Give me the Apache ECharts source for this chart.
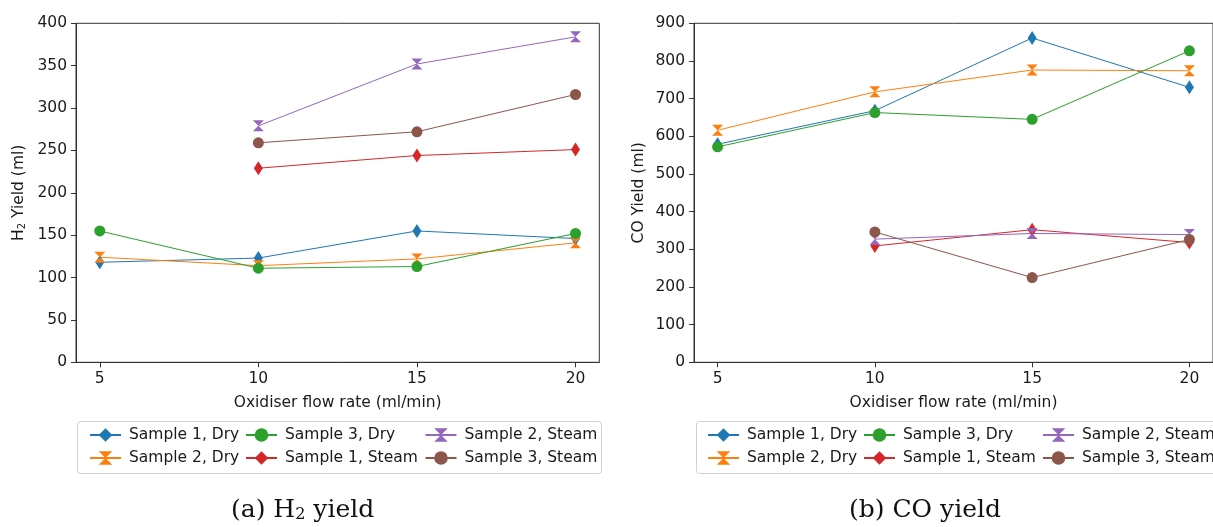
<!DOCTYPE html>
<html>
<head>
<meta charset="utf-8">
<script src="https://cdn.jsdelivr.net/npm/echarts@6/dist/echarts.min.js"></script>
<style>html,body{margin:0;padding:0;background:#fff;}#c{width:1213px;height:527px;}</style>
</head>
<body>
<div id="c"></div>
<script>
// ---- data ----
var flowRates = [5, 10, 15, 20];
var seriesNames = ['Sample 1, Dry', 'Sample 2, Dry', 'Sample 3, Dry', 'Sample 1, Steam', 'Sample 2, Steam', 'Sample 3, Steam'];
var h2S1Dry = [118, 123, 155, 146];
var h2S2Dry = [124, 114, 122, 141];
var h2S3Dry = [155, 111, 113, 152];
var h2S1Steam = [null, 229, 244, 251];
var h2S2Steam = [null, 279, 352, 384];
var h2S3Steam = [null, 259, 272, 316];
var coS1Dry = [579, 668, 861, 730];
var coS2Dry = [616, 718, 776, 774];
var coS3Dry = [572, 663, 645, 827];
var coS1Steam = [null, 309, 352, 318];
var coS2Steam = [null, 327, 342, 339];
var coS3Steam = [null, 346, 225, 326];
var xTicks = [5, 10, 15, 20];

// ---- styles ----
var colors = ['#1f77b4', '#ff7f0e', '#2ca02c', '#d62728', '#9467bd', '#8c564b'];
var DIAMOND = 'path://M5,0 L8.5,7 L5,14 L1.5,7 Z';
var HOURGLASS = 'path://M0,0 L10,0 L0,10 L10,10 Z';
var symbols = [DIAMOND, HOURGLASS, 'circle', DIAMOND, HOURGLASS, 'circle'];
var symSizes = [[9, 14], [11, 11], 11, [9, 14], [11, 11], 11];
var FONT = 'DejaVu Sans';
var TXT = '#1a1a1a';
var FS = 15.5;

function pairs(vals) {
  var out = [];
  for (var i = 0; i < flowRates.length; i++) if (vals[i] != null) out.push([flowRates[i], vals[i]]);
  return out;
}

var h2Data = [h2S1Dry, h2S2Dry, h2S3Dry, h2S1Steam, h2S2Steam, h2S3Steam];
var coData = [coS1Dry, coS2Dry, coS3Dry, coS1Steam, coS2Steam, coS3Steam];

function xAxisDef(gi) {
  return {
    type: 'value', gridIndex: gi, min: 4.25, max: 20.75,
    name: 'Oxidiser flow rate (ml/min)', nameLocation: 'middle', nameGap: 33,
    nameTextStyle: {fontFamily: FONT, fontSize: FS, color: TXT},
    axisLine: {show: true, onZero: false, lineStyle: {color: '#333', width: 1}},
    axisTick: {show: true, length: 5, customValues: xTicks, lineStyle: {color: '#333'}},
    axisLabel: {customValues: xTicks, fontFamily: FONT, fontSize: FS, color: TXT, margin: 9},
    splitLine: {show: false}
  };
}
function yAxisDef(gi, max, interval, nameRich, gap) {
  return {
    type: 'value', gridIndex: gi, min: 0, max: max, interval: interval,
    name: nameRich, nameLocation: 'middle', nameGap: gap,
    nameTextStyle: {fontFamily: FONT, fontSize: FS, color: TXT,
      rich: {n: {fontFamily: FONT, fontSize: FS, color: TXT},
             s: {fontFamily: FONT, fontSize: 10, color: TXT, padding: [6, 0, 0, 0]}}},
    axisLine: {show: true, lineStyle: {color: '#333', width: 1}},
    axisTick: {show: true, length: 5, lineStyle: {color: '#333'}},
    axisLabel: {fontFamily: FONT, fontSize: FS, color: TXT, margin: 9},
    splitLine: {show: false}
  };
}

var series = [];
[h2Data, coData].forEach(function (set, gi) {
  set.forEach(function (vals, i) {
    series.push({
      name: seriesNames[i], type: 'line', xAxisIndex: gi, yAxisIndex: gi,
      data: pairs(vals), symbol: symbols[i], symbolSize: symSizes[i],
      showAllSymbol: true, animation: false,
      lineStyle: {color: colors[i], width: 1},
      itemStyle: {color: colors[i], borderWidth: 0}
    });
  });
});

function legendCol(left, names) {
  return {
    orient: 'vertical', left: left, top: 422, itemWidth: 31, itemHeight: 17, itemGap: 7,
    data: names, selectedMode: false, symbolKeepAspect: true,
    textStyle: {fontFamily: FONT, fontSize: FS, color: TXT, padding: [0, 0, 0, 3]}
  };
}
var legends = [
  legendCol(84, [seriesNames[0], seriesNames[1]]),
  legendCol(240, [seriesNames[2], seriesNames[3]]),
  legendCol(419.5, [seriesNames[4], seriesNames[5]]),
  legendCol(702, [seriesNames[0], seriesNames[1]]),
  legendCol(858, [seriesNames[2], seriesNames[3]]),
  legendCol(1037, [seriesNames[4], seriesNames[5]])
];

var capRich = {
  n: {fontFamily: 'DejaVu Serif', fontSize: 25, fill: '#111', textFill: '#111'},
  s: {fontFamily: 'DejaVu Serif', fontSize: 16, fill: '#111', textFill: '#111', padding: [9, 0, 0, 0]}
};

var option = {
  backgroundColor: '#fff',
  animation: false,
  grid: [
    {left: 76, right: 1213 - 599.3, top: 23.3, bottom: 527 - 362.3, show: true, borderColor: '#333', borderWidth: 1},
    {left: 694, right: -4.5, top: 23.3, bottom: 527 - 362.3, show: true, borderColor: '#333', borderWidth: 1}
  ],
  xAxis: [xAxisDef(0), xAxisDef(1)],
  yAxis: [
    yAxisDef(0, 400, 50, '{n|H}{s|2}{n| Yield (ml)}', 49),
    yAxisDef(1, 900, 100, 'CO Yield (ml)', 47)
  ],
  legend: legends,
  series: series,
  graphic: [
    {type: 'rect', shape: {x: 77.5, y: 421.5, width: 524, height: 52, r: 3}, style: {fill: 'rgba(255,255,255,0.8)', stroke: '#d0d0d0', lineWidth: 1}, z: -1},
    {type: 'rect', shape: {x: 696.5, y: 421.5, width: 530, height: 52, r: 3}, style: {fill: 'rgba(255,255,255,0.8)', stroke: '#d0d0d0', lineWidth: 1}, z: -1},
    {type: 'text', left: 231, top: 498, style: {text: '{n|(a) H}{s|2}{n| yield}', rich: capRich}},
    {type: 'text', left: 849, top: 498, style: {text: '{n|(b) CO yield}', rich: capRich}}
  ]
};

var chart = echarts.init(document.getElementById('c'), null, {renderer: 'canvas'});
chart.setOption(option);
</script>
</body>
</html>
